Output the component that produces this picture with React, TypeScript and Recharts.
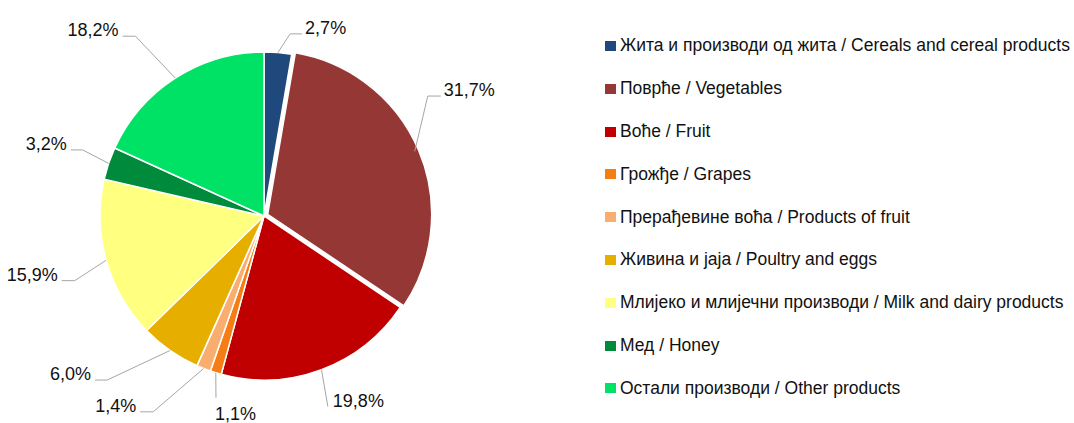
import { PieChart, Pie, Cell, Legend } from 'recharts';

const categories = [
  'Жита и производи од жита / Cereals and cereal products',
  'Поврће / Vegetables',
  'Воће / Fruit',
  'Грожђе / Grapes',
  'Прерађевине воћа / Products of fruit',
  'Живина и jaja / Poultry and eggs',
  'Млијеко и млијечни производи / Milk and dairy products',
  'Мед / Honey',
  'Остали производи / Other products',
];

const shares = [2.7, 31.7, 19.8, 1.1, 1.4, 6.0, 15.9, 3.2, 18.2];

const colors = ['#1F497D', '#953735', '#C00000', '#F67C14', '#F9AE70', '#E6AF00', '#FFFF80', '#008A3C', '#00E266'];

const data = categories.map((name, i) => ({ name, value: shares[i] }));

// leader line layout per slice: extra radius of elbow, angle shift (deg, clockwise), horizontal tail
const labelLayout = [
  { extra: 20, shift: 3.3, tail: 12 },
  { extra: 39, shift: -13, tail: 13 },
  { extra: 37, shift: 2, tail: 0 },
  { extra: 24, shift: -2.3, tail: 0, below: true },
  { extra: 61, shift: 7.9, tail: 13 },
  { extra: 63, shift: 8.8, tail: 12 },
  { extra: 36, shift: -3.2, tail: 13 },
  { extra: 29, shift: 1.3, tail: 12 },
  { extra: 57, shift: -2.8, tail: 13 },
];

const FONT = "'Liberation Sans', Arial, sans-serif";
const CX = 264;
const CY = 216;
const R = 164;
const EXPLODE = 4;
const RAD = Math.PI / 180;

const total = shares.reduce((a, b) => a + b, 0);
const vegMid = ((shares[0] + shares[1] / 2) / total) * 360; // clockwise from top
const vegDx = EXPLODE * Math.sin(vegMid * RAD);
const vegDy = -EXPLODE * Math.cos(vegMid * RAD);

const renderLabel = (props: any) => {
  const { cx, cy, midAngle, outerRadius, index, value } = props;
  const lay = labelLayout[index];
  const sx = cx + outerRadius * Math.cos(-midAngle * RAD);
  const sy = cy + outerRadius * Math.sin(-midAngle * RAD);
  const a = midAngle - lay.shift;
  const er = outerRadius + lay.extra;
  const ex = cx + er * Math.cos(-a * RAD);
  const ey = cy + er * Math.sin(-a * RAD);
  const right = ex >= cx;
  const hx = right ? ex + lay.tail : ex - lay.tail;
  const txt = value.toFixed(1).replace('.', ',') + '%';
  let tx = right ? hx + 3 : hx - 4;
  let ty = ey;
  let anchor: 'start' | 'end' = right ? 'start' : 'end';
  if (lay.below) {
    tx = ex - 1;
    ty = ey + 22;
    anchor = 'start';
  } else if (lay.tail === 0) {
    tx = ex + 5;
  }
  return (
    <g>
      <polyline points={`${sx},${sy} ${ex},${ey} ${hx},${ey}`} fill="none" stroke="#A6A6A6" strokeWidth={1} />
      <text x={tx} y={ty} textAnchor={anchor} fontSize={18} fontFamily={FONT} fill="#111">
        {txt}
      </text>
    </g>
  );
};

const renderLegend = () => (
  <div style={{ fontFamily: FONT, fontSize: 17.5, color: '#111' }}>
    {categories.map((c, i) => (
      <div key={c} style={{ height: 42.8, display: 'flex', alignItems: 'center', whiteSpace: 'nowrap' }}>
        <span style={{ display: 'inline-block', width: 11, height: 10, background: colors[i], marginRight: 4 }} />
        <span>{c}</span>
      </div>
    ))}
  </div>
);

export default function App() {
  return (
    <div style={{ position: 'absolute', left: 0, top: 0, width: 1074, height: 423, background: '#fff' }}>
      <PieChart width={1074} height={423} margin={{ top: 0, right: 0, bottom: 0, left: 0 }}>
        <Pie
          data={data}
          dataKey="value"
          nameKey="name"
          cx={CX}
          cy={CY}
          outerRadius={R}
          startAngle={90}
          endAngle={-270}
          stroke="#fff"
          strokeWidth={1.5}
          label={renderLabel}
          labelLine={false}
          isAnimationActive={false}
        >
          {data.map((d, i) => (
            <Cell key={d.name} fill={i === 1 ? 'transparent' : colors[i]} stroke={i === 1 ? 'none' : '#fff'} />
          ))}
        </Pie>
        <Pie
          data={data}
          dataKey="value"
          nameKey="name"
          cx={CX + vegDx}
          cy={CY + vegDy}
          outerRadius={R}
          startAngle={90}
          endAngle={-270}
          stroke="#fff"
          strokeWidth={1.5}
          isAnimationActive={false}
          legendType="none"
        >
          {data.map((d, i) => (
            <Cell key={d.name} fill={i === 1 ? colors[i] : 'transparent'} stroke={i === 1 ? '#fff' : 'none'} />
          ))}
        </Pie>
        <Legend
          layout="vertical"
          verticalAlign="top"
          align="right"
          content={renderLegend}
          wrapperStyle={{ left: 605, top: 24.6, right: 'auto', width: 469 }}
        />
      </PieChart>
    </div>
  );
}
